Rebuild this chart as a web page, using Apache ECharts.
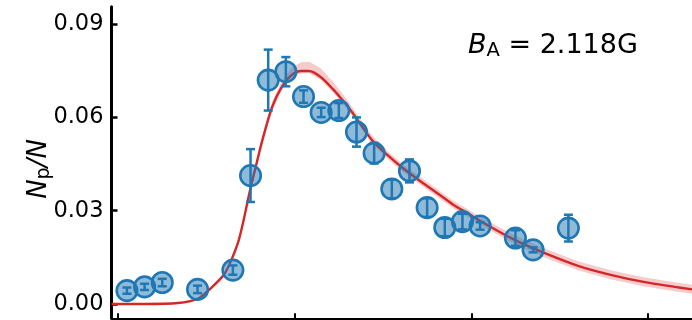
<!DOCTYPE html>
<html>
<head>
<meta charset="utf-8">
<script src="https://cdn.jsdelivr.net/npm/echarts@6/dist/echarts.min.js"></script>
<style>
  html, body { margin: 0; padding: 0; background: #fff; }
  #chart { width: 692px; height: 320px; }
</style>
</head>
<body>
<div id="chart"></div>
<script>
// Measured population fraction with error bars
const pointX = [0.5, 1.5, 2.5, 4.5, 6.5, 7.5, 8.5, 9.5, 10.5, 11.5, 12.5, 13.5, 14.5, 15.5, 16.5, 17.5, 18.5, 19.5, 20.5, 22.5, 23.5, 25.5];
const pointY = [0.0043, 0.0055, 0.0069, 0.0047, 0.0109, 0.0413, 0.0720, 0.0747, 0.0667, 0.0616, 0.0622, 0.0553, 0.0485, 0.0370, 0.0428, 0.0310, 0.0246, 0.0265, 0.0251, 0.0212, 0.0174, 0.0244];
const pointErr = [0.0010, 0.0010, 0.0012, 0.0012, 0.0015, 0.0085, 0.0098, 0.0047, 0.0020, 0.0015, 0.0024, 0.0047, 0.0033, 0.0030, 0.0037, 0.0030, 0.0028, 0.0025, 0.0012, 0.0025, 0.0008, 0.0043];

// Model curve and its uncertainty band
const curveX = [-0.374, 1.5, 3.39, 4.49, 5.20, 5.98, 6.41, 6.80, 7.07, 7.35, 7.51, 7.84, 8.17, 8.72, 9.27, 9.82, 10.37, 10.81, 11.47, 12.18, 12.57, 12.90, 13.45, 14.38, 15.31, 16.19, 17.12, 18.06, 18.94, 19.87, 20.59, 22.45, 24.27, 26.08, 27.95, 29.76, 31.52, 32.5];
const curveY = [0.0000, 0.0000, 0.0003, 0.0016, 0.0048, 0.0093, 0.0141, 0.0199, 0.0260, 0.0334, 0.0375, 0.0452, 0.0527, 0.0633, 0.0698, 0.0736, 0.0749, 0.0749, 0.0730, 0.0690, 0.0665, 0.0643, 0.0601, 0.0527, 0.0476, 0.0434, 0.0395, 0.0357, 0.0321, 0.0289, 0.0264, 0.0206, 0.0161, 0.0122, 0.0093, 0.0071, 0.0055, 0.0047];
const bandLow = [-0.0002, -0.0002, 0.0001, 0.0012, 0.0043, 0.0087, 0.0134, 0.0191, 0.0251, 0.0324, 0.0364, 0.0440, 0.0514, 0.0620, 0.0688, 0.0728, 0.0742, 0.0742, 0.0722, 0.0680, 0.0654, 0.0632, 0.0589, 0.0515, 0.0464, 0.0422, 0.0383, 0.0345, 0.0309, 0.0277, 0.0252, 0.0192, 0.0147, 0.0108, 0.0079, 0.0057, 0.0041, 0.0033];
const bandHigh = [0.0002, 0.0002, 0.0005, 0.0020, 0.0053, 0.0099, 0.0148, 0.0207, 0.0269, 0.0344, 0.0386, 0.0465, 0.0542, 0.0650, 0.0718, 0.0760, 0.0777, 0.0779, 0.0758, 0.0714, 0.0686, 0.0662, 0.0617, 0.0541, 0.0489, 0.0447, 0.0408, 0.0370, 0.0334, 0.0302, 0.0277, 0.0221, 0.0176, 0.0137, 0.0108, 0.0086, 0.0070, 0.0062];

// Axis ticks
const xTicks = [0, 10, 20, 30];
const yTicks = [0.00, 0.03, 0.06, 0.09];

const FONT = 'DejaVu Sans';
const BLUE = '#1f77b4';
const RED = '#d62728';

const chart = echarts.init(document.getElementById('chart'));

const option = {
  animation: false,
  backgroundColor: '#fff',
  grid: { left: 111.5, top: 6.7, width: 598.3, height: 311.6 },
  xAxis: {
    type: 'value',
    min: -0.374,
    max: 32.5,
    axisLine: { show: true, onZero: false, lineStyle: { color: '#000', width: 2 } },
    axisTick: { show: true, inside: true, length: 5, customValues: xTicks, lineStyle: { color: '#000', width: 2 } },
    axisLabel: { show: false },
    splitLine: { show: false }
  },
  yAxis: {
    type: 'value',
    min: -0.0046,
    max: 0.0956,
    axisLine: { show: true, onZero: false, lineStyle: { color: '#000', width: 3 } },
    axisTick: { show: true, inside: true, length: 6, customValues: yTicks, lineStyle: { color: '#000', width: 2.5 } },
    axisLabel: {
      customValues: yTicks,
      formatter: v => v.toFixed(2),
      fontFamily: FONT,
      fontSize: 22.5,
      color: '#000',
      margin: 8
    },
    splitLine: { show: false }
  },
  graphic: [
    {
      type: 'text',
      x: 468,
      y: 46,
      z: 10,
      style: {
        text: '{i|B}{s|A}{n| = 2.118G}',
        verticalAlign: 'middle',
        align: 'left',
        fill: '#000',
        rich: {
          i: { fontFamily: FONT, fontSize: 27, fontStyle: 'italic', lineHeight: 30, fill: '#000' },
          s: { fontFamily: FONT, fontSize: 19.5, lineHeight: 19, verticalAlign: 'bottom', fill: '#000' },
          n: { fontFamily: FONT, fontSize: 27, lineHeight: 30, fill: '#000' }
        }
      }
    },
    {
      type: 'text',
      x: 39,
      y: 169,
      rotation: Math.PI / 2,
      z: 10,
      style: {
        text: '{i|N}{s|p}{n|/}{i|N}',
        align: 'center',
        verticalAlign: 'middle',
        fill: '#000',
        rich: {
          i: { fontFamily: FONT, fontSize: 26, fontStyle: 'italic', lineHeight: 30, fill: '#000' },
          s: { fontFamily: FONT, fontSize: 19, lineHeight: 19, verticalAlign: 'bottom', fill: '#000' },
          n: { fontFamily: FONT, fontSize: 26, fontStyle: 'italic', lineHeight: 30, fill: '#000' }
        }
      }
    }
  ],
  series: [
    {
      // uncertainty band drawn as one closed polygon through the axis scales
      type: 'custom',
      data: curveX.map((x, i) => [x, bandLow[i], bandHigh[i]]),
      encode: { x: 0, y: [1, 2] },
      clip: true,
      silent: true,
      z: 1,
      renderItem: (params, api) => {
        if (params.dataIndex !== 0) return null;
        const upper = curveX.map((x, i) => api.coord([x, bandHigh[i]]));
        const lower = curveX.map((x, i) => api.coord([x, bandLow[i]])).reverse();
        return {
          type: 'polygon',
          shape: { points: upper.concat(lower) },
          style: { fill: 'rgba(214,39,40,0.24)', stroke: null }
        };
      }
    },
    {
      type: 'line',
      data: curveX.map((x, i) => [x, curveY[i]]),
      symbol: 'none',
      smooth: 0.3,
      lineStyle: { color: RED, width: 2.4 },
      z: 2
    },
    {
      type: 'scatter',
      data: pointX.map((x, i) => [x, pointY[i]]),
      symbol: 'circle',
      symbolSize: 20.5,
      itemStyle: { color: 'rgba(31,119,180,0.5)', borderColor: BLUE, borderWidth: 2.6, opacity: 1 },
      z: 3
    },
    {
      type: 'custom',
      data: pointX.map((x, i) => [x, pointY[i] - pointErr[i], pointY[i] + pointErr[i]]),
      encode: { x: 0, y: [1, 2] },
      renderItem: (params, api) => {
        const x = api.value(0);
        const lo = api.coord([x, api.value(1)]);
        const hi = api.coord([x, api.value(2)]);
        const cap = 4.5;
        const style = { stroke: BLUE, lineWidth: 2.5 };
        return {
          type: 'group',
          children: [
            { type: 'line', shape: { x1: lo[0], y1: lo[1], x2: hi[0], y2: hi[1] }, style },
            { type: 'line', shape: { x1: lo[0] - cap, y1: lo[1], x2: lo[0] + cap, y2: lo[1] }, style },
            { type: 'line', shape: { x1: hi[0] - cap, y1: hi[1], x2: hi[0] + cap, y2: hi[1] }, style }
          ]
        };
      },
      z: 4
    }
  ]
};

chart.setOption(option);
</script>
</body>
</html>
